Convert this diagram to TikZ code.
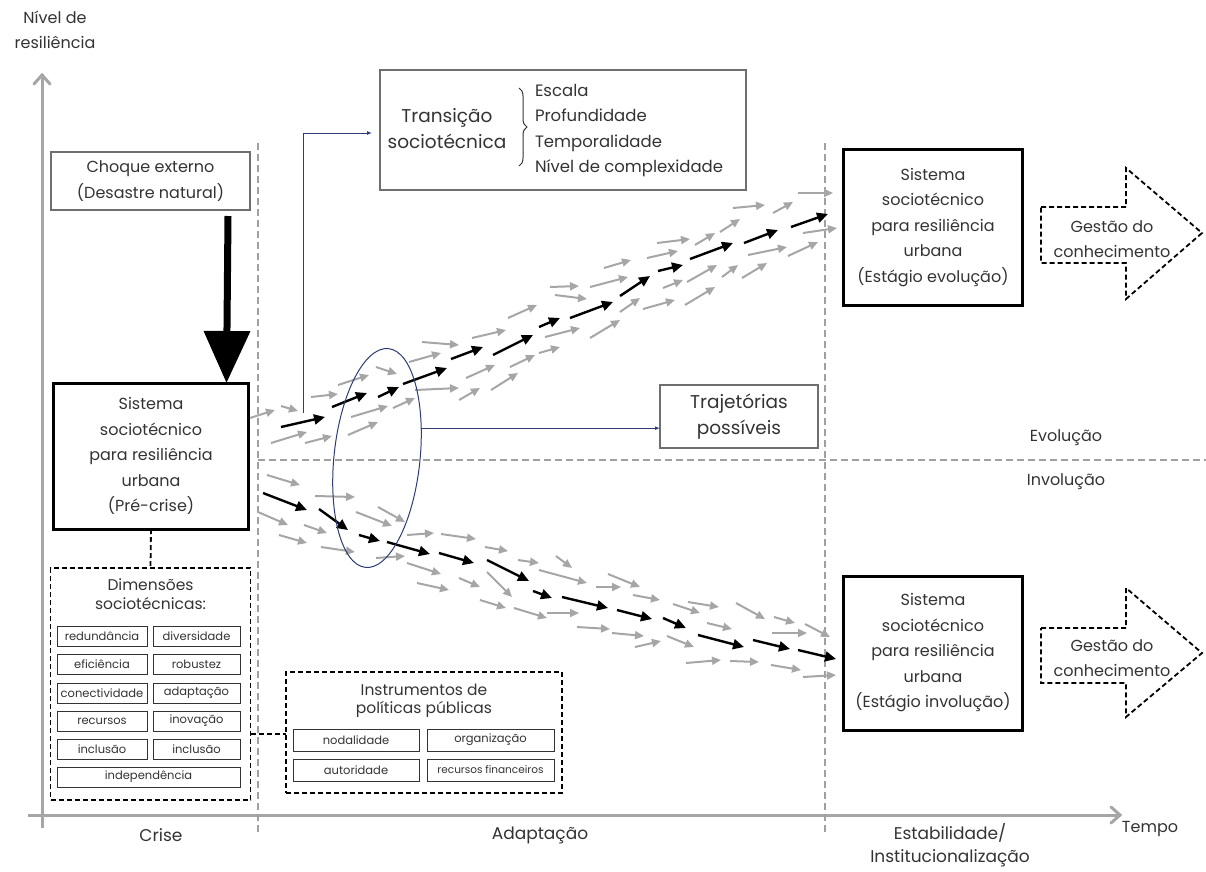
\documentclass[tikz,border=0pt]{standalone}
\usepackage{fontspec}
\setmainfont{Poppins}
\usetikzlibrary{arrows.meta,shapes.geometric,decorations.pathreplacing}
\definecolor{txt}{HTML}{333333}
\definecolor{gr}{HTML}{A6A6A6}
\definecolor{dgr}{HTML}{A0A0A0}
\definecolor{navy}{HTML}{2F3C73}
\definecolor{boxgr}{HTML}{6F6F6F}
\begin{document}
\begin{tikzpicture}[x=1pt,y=-1pt,
  every node/.style={text=txt, inner sep=0pt, outer sep=0pt},
  f17/.style={font=\fontsize{16}{25.5}\selectfont, align=center},
  f18/.style={font=\fontsize{17}{23}\selectfont, align=center},
  f19/.style={font=\fontsize{18.5}{26}\selectfont, align=center},
  f15/.style={font=\fontsize{15.5}{18.5}\selectfont, align=center},
  f12/.style={font=\fontsize{11.5}{14}\selectfont, align=center},
  thinbox/.style={draw=boxgr, line width=1.1pt},
  sysbox/.style={draw=black, line width=3pt},
  dimbox/.style={draw=black, line width=1.8pt, dash pattern=on 5pt off 3pt},
  smallbox/.style={draw=txt, line width=1pt, f12, minimum height=20pt},
  garr/.style={draw=gr, line width=2pt, -{Triangle[length=9pt,width=8pt]}},
  barr/.style={draw=black, line width=2.4pt, -{Triangle[length=11pt,width=10pt]}},
  axisline/.style={draw=gr, line width=3pt},
  guide/.style={draw=dgr, line width=1.4pt, dash pattern=on 7pt off 4pt},
  navyline/.style={draw=navy, line width=1pt},
  bigarr/.style={draw=black, line width=7pt, -{Triangle[length=52pt,width=45pt]}},
]
\useasboundingbox (0,0) rectangle (1206,871);

% axes
\draw[axisline] (42,828) -- (42,74);
\draw[draw=gr, line width=3pt, line cap=round] (34,84) -- (42,75) -- (50,84);
\draw[axisline] (28,815) -- (1120,815);
\draw[draw=gr, line width=3pt, line cap=round] (1111,807) -- (1120,815) -- (1111,823);
\node[f17] (ylab) at (55,30) {Nível de\\resiliência};
\node[f17] (tempo) at (1150,829) {Tempo};
\node[f18] (crise) at (161,835) {Crise};
\node[f18] (adapt) at (540,835) {Adaptação};
\node[f18] (estab) at (950,845) {Estabilidade/\\Institucionalização};

% guides
\draw[guide] (258,143) -- (258,833);
\draw[guide] (825,143) -- (825,833);
\draw[guide] (258,460) -- (1206,460);
\node[f17] (evo) at (1066,438) {Evolução};
\node[f17] (invo) at (1066,482) {Involução};

% gray arrows upper
\foreach \a/\b/\c/\d in {
250/418/275/410, 281/406/298/411, 271/443/307/432, 305/443/332/436,
311/397/338/394, 338/385/369/375, 351/417/388/406, 348/435/378/422,
376/367/397/374, 409/362/441/353, 393/408/415/398, 415/390/459/388,
422/342/459/345, 459/400/480/388, 466/378/495/365, 491/390/518/373,
472/338/506/330, 508/318/537/305, 510/367/535/355, 539/353/560/347,
545/337/580/328, 590/338/620/320, 550/287/579/286, 555/295/587/299,
604/268/631/260, 590/287/628/277, 620/312/640/298, 643/309/675/300,
663/288/683/280, 687/282/717/265, 685/305/715/287, 647/258/678/251,
657/243/690/239, 695/245/715/233, 720/232/740/219, 733/208/765/205,
773/213/793/202, 798/193/833/193, 722/277/738/265, 742/278/767/263,
748/255/787/247, 788/256/818/242, 803/233/837/228}
  \draw[garr] (\a,\b) -- (\c,\d);

% gray arrows lower
\foreach \a/\b/\c/\d in {
267/475/300/485, 315/496/355/497, 258/512/288/525, 304/525/327/533,
279/535/307/543, 321/547/355/552, 356/512/392/526, 378/507/405/522,
407/535/434/533, 441/534/476/539, 376/558/405/556, 407/563/441/574,
417/583/449/590, 459/578/480/587, 485/547/508/551, 518/560/539/563,
487/572/512/597, 480/600/506/608, 514/608/547/618, 547/613/579/613,
539/570/587/583, 556/556/572/568, 596/587/621/587, 608/574/640/587,
633/595/660/600, 577/627/610/629, 612/633/644/636, 635/647/661/641,
667/636/694/647, 673/604/700/613, 688/602/719/607, 707/623/732/629,
736/603/765/619, 774/617/795/623, 772/633/807/633, 805/624/830/637,
686/663/721/660, 730/661/759/662, 771/665/801/670, 803/677/836/675}
  \draw[garr] (\a,\b) -- (\c,\d);

% black trajectories
\foreach \a/\b/\c/\d in {
281/427/325/417, 332/407/367/393, 378/397/399/387, 403/384/447/368,
451/359/483/347, 493/355/533/335, 539/327/560/318, 570/318/613/302,
620/296/650/276, 658/271/683/265, 690/259/733/243, 744/243/778/230,
791/227/828/214}
  \draw[barr] (\a,\b) -- (\c,\d);
\foreach \a/\b/\c/\d in {
263/493/307/510, 319/509/348/530, 359/535/380/541, 387/542/430/554,
439/553/474/563, 487/560/529/581, 533/591/552/598, 562/597/608/608,
617/610/652/619, 663/618/686/628, 698/635/744/647, 753/640/790/649,
798/650/836/659}
  \draw[barr] (\a,\b) -- (\c,\d);

% left column
\node[thinbox, f17, minimum width=199pt, minimum height=58pt] (choque) at (150.5,181) {Choque externo\\(Desastre natural)};
\node[sysbox, f17, minimum width=195pt, minimum height=146pt] (precrise) at (151,456) {Sistema\\sociotécnico\\para resiliência\\urbana\\(Pré-crise)};
\draw[bigarr] ([xshift=-22pt,yshift=-6pt]choque.south east) -- ([xshift=-22pt]precrise.north east);

\node[dimbox, minimum width=200pt, minimum height=232pt] (dim) at (150.5,684) {};
\node[f15] (dimt) at (150.5,594) {Dimensões\\sociotécnicas:};
\node[smallbox, minimum width=90pt] (s1) at (102,636.5) {redundância};
\node[smallbox, minimum width=87pt] (s2) at (196.5,636.5) {diversidade};
\node[smallbox, minimum width=90pt] (s3) at (102,664.5) {eficiência};
\node[smallbox, minimum width=87pt] (s4) at (196.5,664.5) {robustez};
\node[smallbox, minimum width=90pt] (s5) at (102,693) {conectividade};
\node[smallbox, minimum width=87pt] (s6) at (196.5,693) {adaptação};
\node[smallbox, minimum width=90pt] (s7) at (102,721) {recursos};
\node[smallbox, minimum width=87pt] (s8) at (196.5,721) {inovação};
\node[smallbox, minimum width=90pt] (s9) at (102,749) {inclusão};
\node[smallbox, minimum width=87pt] (s10) at (196.5,749) {inclusão};
\node[smallbox, minimum width=183pt] (s11) at (148.5,777) {independência};
\draw[dimbox] (precrise.south) -- (dim.north);

\node[dimbox, minimum width=276pt, minimum height=121pt] (instr) at (424,732.5) {};
\node[f15] (instrt) at (424,701) {Instrumentos de\\políticas públicas};
\node[smallbox, minimum width=126pt, minimum height=22pt] (i1) at (356,740) {nodalidade};
\node[smallbox, minimum width=127pt, minimum height=22pt] (i2) at (490.5,740) {organização};
\node[smallbox, minimum width=126pt, minimum height=22pt] (i3) at (356,770) {autoridade};
\node[smallbox, minimum width=127pt, minimum height=22pt, font=\fontsize{10.5}{13}\selectfont] (i4) at (490.5,770) {recursos financeiros};
\draw[dimbox] (dim.east |- 0,734) -- (instr.west |- 0,734);

% transition box
\node[thinbox, minimum width=366pt, minimum height=120pt] (trans) at (563,130) {};
\node[f19] (transt) at (447,129) {Transição\\sociotécnica};
\draw[draw=txt, line width=1pt, decorate, decoration={brace, amplitude=8pt}] (519,88) -- (519,166);
\node[align=left, anchor=west, font=\fontsize{16.5}{25.5}\selectfont] (translist) at (535,130.5) {Escala\\Profundidade\\Temporalidade\\Nível de complexidade};
\coordinate (bstart) at (303,413);
\draw[navyline, -{Latex[length=5pt,width=4pt]}, shorten >=8pt] (bstart) |- ([yshift=-3pt]trans.west);

% ellipse and trajectories label
\node[draw=navy, line width=1pt, ellipse, minimum width=86pt, minimum height=220pt, rotate=-6] (ell) at (377,458) {};
\node[thinbox, f19, minimum width=158pt, minimum height=63pt] (traj) at (739,416.5) {Trajetórias\\possíveis};
\draw[navyline, -{Latex[length=5pt,width=4pt]}] (ell.40) -- (ell.40 -| traj.west);

% right systems
\node[sysbox, f17, minimum width=179pt, minimum height=156pt] (evosys) at (933,227.5) {Sistema\\sociotécnico\\para resiliência\\urbana\\(Estágio evolução)};
\node[sysbox, f17, minimum width=179pt, minimum height=154pt] (invosys) at (933,653) {Sistema\\sociotécnico\\para resiliência\\urbana\\(Estágio involução)};

% knowledge management arrows
\draw[dimbox] (1041,207) -- (1126,207) -- (1126,168) -- (1202,233) -- (1126,299) -- (1126,263) -- (1041,263) -- cycle;
\node[f17] (gest1) at (1112,239) {Gestão do\\conhecimento};
\draw[dimbox] (1041,628) -- (1126,628) -- (1126,588) -- (1202,653) -- (1126,717) -- (1126,683) -- (1041,683) -- cycle;
\node[f17] (gest2) at (1112,658) {Gestão do\\conhecimento};
\end{tikzpicture}
\end{document}
